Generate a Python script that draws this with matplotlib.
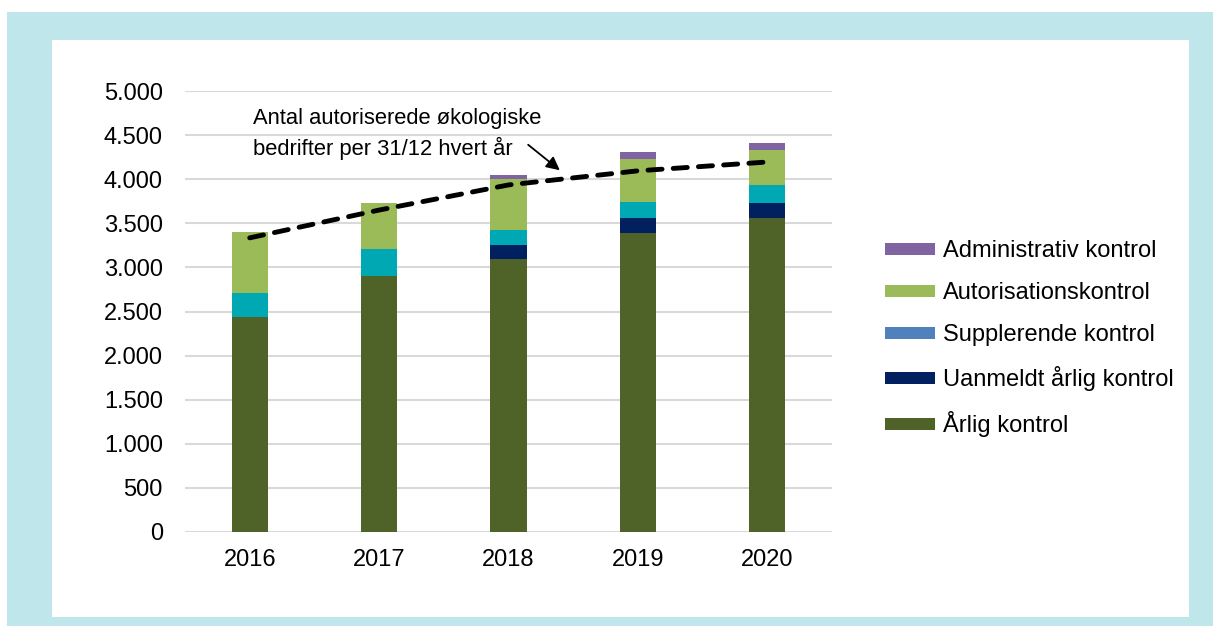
import matplotlib
matplotlib.use("Agg")
import matplotlib.pyplot as plt
from matplotlib.patches import Rectangle, Patch
import numpy as np

plt.rcParams['font.family'] = ['Liberation Sans', 'DejaVu Sans']

years = ["2016", "2017", "2018", "2019", "2020"]
aarlig = [2440, 2900, 3100, 3390, 3560]
uanmeldt = [0, 0, 150, 170, 170]
supplerende = [270, 310, 170, 180, 200]
autorisation = [690, 520, 580, 490, 405]
administrativ = [0, 0, 45, 75, 70]
autoriserede = [3335, 3650, 3935, 4095, 4195]

series_names = ["Årlig kontrol", "Uanmeldt årlig kontrol", "Supplerende kontrol",
                "Autorisationskontrol", "Administrativ kontrol"]
series_vals = [aarlig, uanmeldt, supplerende, autorisation, administrativ]
bar_colors = ["#4f6228", "#002060", "#00a8b4", "#9bbb59", "#8064a2"]
legend_colors = ["#4f6228", "#002060", "#4f81bd", "#9bbb59", "#8064a2"]

W, H = 1213, 626
fig = plt.figure(figsize=(W / 100, H / 100), dpi=100)

# background frame
fig.patches.append(Rectangle((7 / W, 0), 1 - 7 / W, 1 - 12 / H, transform=fig.transFigure,
                             facecolor="#bfe7eb", edgecolor="none", zorder=-10))
fig.patches.append(Rectangle((52 / W, (H - 617) / H), (1189 - 52) / W, (617 - 40) / H,
                             transform=fig.transFigure, facecolor="white",
                             edgecolor="none", zorder=-9))

ax = fig.add_axes([185 / W, (H - 532) / H, (832 - 185) / W, (532 - 91) / H])
ax.set_facecolor("none")

x = np.arange(len(years))
bottom = np.zeros(len(years))
for name, vals, c in zip(series_names, series_vals, bar_colors):
    v = np.array(vals, dtype=float)
    ax.bar(x, v, 0.28, bottom=bottom, color=c, zorder=3)
    bottom += v

ax.plot(x, autoriserede, color="black", lw=3.5, ls=(0, (2.9, 2.3)),
        dash_capstyle="round", zorder=4)

ax.set_xlim(-0.5, 4.5)
ax.set_ylim(0, 5000)
ax.set_yticks(np.arange(0, 5001, 500))
ax.set_yticklabels(["0" if t == 0 else f"{t:,}".replace(",", ".") for t in range(0, 5001, 500)])
ax.set_xticks(x)
ax.set_xticklabels(years)
ax.grid(axis="y", color="#d9d9d9", lw=1.5, zorder=0)
for s in ax.spines.values():
    s.set_visible(False)
ax.tick_params(axis="both", length=0, labelsize=17, colors="black")
ax.tick_params(axis="y", pad=16)
ax.tick_params(axis="x", pad=12)

ax.annotate("", xy=(562, H - 172), xytext=(526, H - 143), xycoords="figure pixels",
            textcoords="figure pixels",
            arrowprops=dict(arrowstyle="-|>", color="black", lw=1.3, mutation_scale=20))
fig.text(253 / W, (H - 134) / H, "Antal autoriserede økologiske\nbedrifter per 31/12 hvert år",
         fontsize=15.8, va="center", ha="left", linespacing=1.45)

handles = [Patch(facecolor=c, edgecolor="none") for c in legend_colors]
order = [4, 3, 2, 1, 0]
leg = fig.legend([handles[i] for i in order], [series_names[i] for i in order],
                 loc="upper left", bbox_to_anchor=(885 / W, (H - 240) / H),
                 frameon=False, fontsize=17, handlelength=2.1, handleheight=0.4,
                 labelspacing=0.85, handletextpad=0.35, borderpad=0, borderaxespad=0)

fig.savefig("out.png", dpi=100)
